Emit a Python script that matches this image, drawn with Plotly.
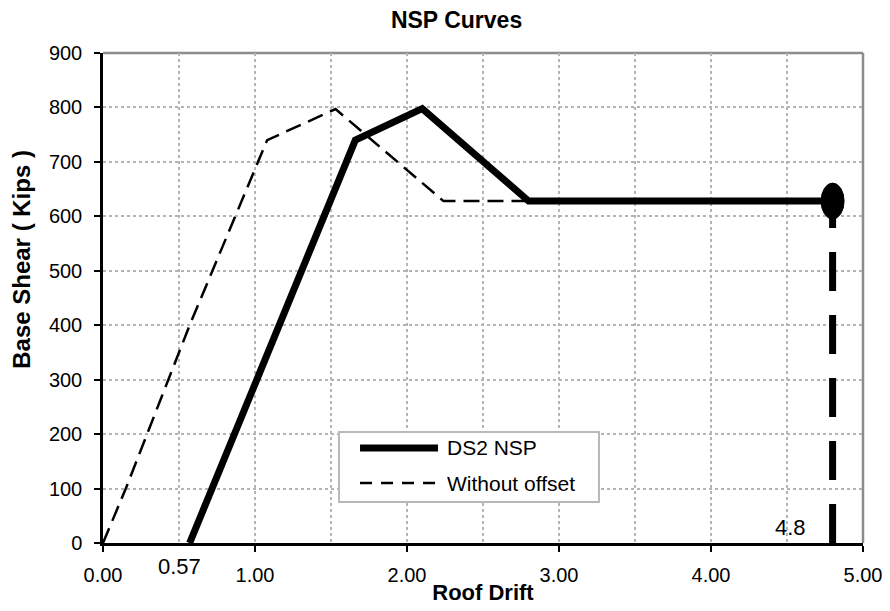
import plotly.graph_objects as go

# Pushover (NSP) curves: roof drift vs base shear
ds2_name = "DS2 NSP"
ds2_drift = [0.57, 1.66, 2.10, 2.80, 4.80]
ds2_shear = [0, 740, 798, 628, 628]

nooff_name = "Without offset"
nooff_drift = [0.00, 0.15, 0.57, 1.08, 1.53, 2.24, 2.80]
nooff_shear = [0, 100, 400, 740, 797, 628, 628]

# performance point at the end of the DS2 curve
perf_drift = ds2_drift[-1]
perf_shear = ds2_shear[-1]
offset_drift = ds2_drift[0]

FONT = "Liberation Sans, Arial, sans-serif"
GRID = "#b4b4b4"

fig = go.Figure()

fig.add_trace(go.Scatter(
    x=nooff_drift, y=nooff_shear, mode="lines", name=nooff_name,
    line=dict(color="black", width=2.5, dash="16px,8px"), showlegend=False,
))
fig.add_trace(go.Scatter(
    x=ds2_drift, y=ds2_shear, mode="lines", name=ds2_name,
    line=dict(color="black", width=7), showlegend=False,
))
# drop line from the performance point down to the drift axis
fig.add_trace(go.Scatter(
    x=[perf_drift, perf_drift], y=[0, perf_shear], mode="lines",
    line=dict(color="black", width=7, dash="39px,24px"), showlegend=False,
))

shapes = [
    # top and right frame of the plot area
    dict(type="line", xref="paper", yref="paper", x0=0, x1=1, y0=1, y1=1,
         line=dict(color="#8c8c8c", width=2.5), layer="below"),
    dict(type="line", xref="paper", yref="paper", x0=1, x1=1, y0=0, y1=1,
         line=dict(color="#8c8c8c", width=2.5), layer="below"),
    # performance point marker (oval)
    dict(type="circle", xref="x", yref="y", xsizemode="pixel", ysizemode="pixel",
         xanchor=perf_drift, yanchor=perf_shear, x0=-11.5, x1=11.5, y0=-18, y1=18,
         fillcolor="black", line=dict(color="black", width=1), layer="above"),
    # legend box
    dict(type="rect", xref="paper", yref="paper", x0=0.3105, x1=0.6526, y0=0.0837, y1=0.2265,
         fillcolor="white", line=dict(color="#b8b8b8", width=2), layer="above"),
    dict(type="line", xref="paper", yref="paper", x0=0.3382, x1=0.4408, y0=0.1939, y1=0.1939,
         line=dict(color="black", width=7), layer="above"),
    dict(type="line", xref="paper", yref="paper", x0=0.3382, x1=0.4408, y0=0.1224, y1=0.1224,
         line=dict(color="black", width=2.5, dash="12px,9px"), layer="above"),
]

annotations = [
    dict(xref="paper", yref="paper", x=0.4505, y=0.1939, text=ds2_name, showarrow=False,
         xanchor="left", yanchor="middle", font=dict(family=FONT, size=21, color="black")),
    dict(xref="paper", yref="paper", x=0.4505, y=0.1224, text=nooff_name, showarrow=False,
         xanchor="left", yanchor="middle", font=dict(family=FONT, size=21, color="black")),
    dict(xref="x", yref="y", x=offset_drift, y=0, text=f"{offset_drift:.2f}", showarrow=False,
         xshift=-10, yshift=-23, xanchor="center", yanchor="middle",
         font=dict(family=FONT, size=22, color="black")),
    dict(xref="x", yref="y", x=perf_drift, y=0, text=f"{perf_drift:g}", showarrow=False,
         xshift=-42, yshift=16, xanchor="center", yanchor="middle",
         font=dict(family=FONT, size=22, color="black")),
    # vertical axis title
    dict(xref="paper", yref="paper", x=-0.1066, y=0.58, text="<b>Base Shear ( Kips )</b>",
         showarrow=False, textangle=-90, xanchor="center", yanchor="middle",
         font=dict(family=FONT, size=24, color="black")),
]

fig.update_layout(
    width=890, height=611,
    margin=dict(l=103, r=27, t=53, b=68, autoexpand=False),
    paper_bgcolor="white", plot_bgcolor="white",
    font=dict(family=FONT, size=20, color="black"),
    title=dict(text="<b>NSP Curves</b>", x=0.513, xanchor="center", y=0.968, yanchor="middle",
               font=dict(family=FONT, size=23, color="black")),
    shapes=shapes, annotations=annotations,
)

fig.update_xaxes(
    range=[0, 5], dtick=1, tick0=0, tickformat=".2f",
    showline=True, linecolor="black", linewidth=2.5,
    ticks="outside", ticklen=6, tickwidth=1.5, tickcolor="black",
    ticklabelstandoff=6,
    showgrid=True, gridcolor=GRID, griddash="dot", gridwidth=1.5,
    minor=dict(dtick=0.5, showgrid=True, gridcolor=GRID, griddash="dot", gridwidth=1.5),
    zeroline=False,
    title=dict(text="<b>Roof Drift</b>", standoff=0, font=dict(family=FONT, size=22)),
    automargin=False,
)
fig.update_yaxes(
    range=[0, 900], dtick=100, tick0=0,
    showline=True, linecolor="black", linewidth=2.5,
    ticks="outside", ticklen=6, tickwidth=1.5, tickcolor="black",
    ticklabelstandoff=8,
    showgrid=True, gridcolor=GRID, griddash="dot", gridwidth=1.5,
    zeroline=False,
    automargin=False,
)

fig.write_html("out.html")
